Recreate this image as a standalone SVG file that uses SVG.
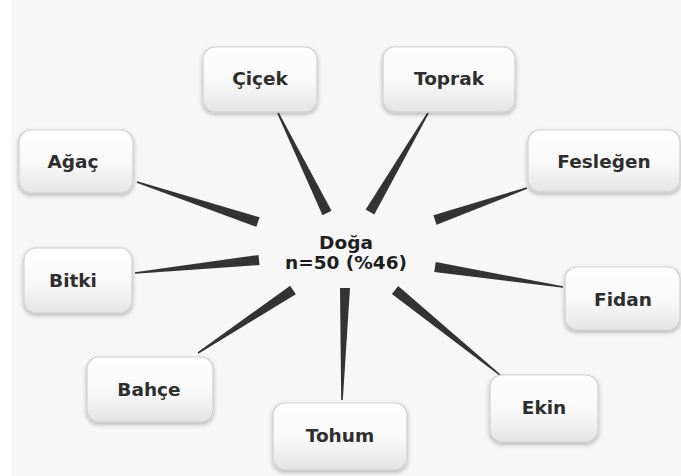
<svg xmlns="http://www.w3.org/2000/svg" width="681" height="476" viewBox="0 0 681 476">
  <defs>
    <linearGradient id="boxGrad" x1="0" y1="0" x2="0" y2="1">
      <stop offset="0" stop-color="#ffffff"/>
      <stop offset="0.55" stop-color="#f8f8f8"/>
      <stop offset="1" stop-color="#e4e4e4"/>
    </linearGradient>
    <filter id="shadow" x="-20%" y="-20%" width="140%" height="150%">
      <feDropShadow dx="0" dy="2" stdDeviation="2" flood-color="#000" flood-opacity="0.28"/>
    </filter>
  </defs>
  <style>
    .box { fill: url(#boxGrad); stroke: #cfcfcf; stroke-width: 1.2; filter: url(#shadow); }
    .lbl { font-family: "DejaVu Sans", "Liberation Sans", sans-serif; font-weight: bold; font-size: 18.5px; fill: #2e2e2e; text-anchor: middle; }
    .center { font-family: "DejaVu Sans", "Liberation Sans", sans-serif; font-weight: bold; font-size: 18.5px; fill: #1e1e1e; text-anchor: middle; }
    .wedge { fill: #333333; }
  </style>
  <rect x="0" y="0" width="681" height="476" fill="#ffffff"/>
  <rect x="11" y="0" width="670" height="476" fill="#f7f7f7"/>

  <g id="connectors">
    <polygon class="wedge" points="277.3,113.4 278.7,112.6 331.5,210.8 322.5,215.2"/>
    <polygon class="wedge" points="427.3,112.6 428.7,113.4 374.3,214.5 365.7,209.5"/>
    <polygon class="wedge" points="136.7,182.8 137.3,181.2 259.6,217.3 256.4,226.8"/>
    <polygon class="wedge" points="134.9,272.2 135.1,273.8 259.5,265 258.5,255"/>
    <polygon class="wedge" points="526.7,187.2 527.3,188.8 436.6,224.7 433.4,215.3"/>
    <polygon class="wedge" points="563.1,286.2 562.9,287.8 434.2,271.9 435.8,262.1"/>
    <polygon class="wedge" points="500.5,374.4 499.5,375.6 391.9,293.9 398.2,286.1"/>
    <polygon class="wedge" points="197.6,352.3 198.4,353.7 295.8,294.2 290.2,285.8"/>
    <polygon class="wedge" points="341.2,400 342.8,400 350,288 340,288"/>
  </g>

  <g id="center">
    <text class="center" x="346" y="249">Doğa</text>
    <text class="center" x="346" y="269">n=50 (%46)</text>
  </g>

  <g id="cicek">
    <rect class="box" x="203" y="47" width="114" height="65" rx="12"/>
    <text class="lbl" x="260" y="85">Çiçek</text>
  </g>
  <g id="toprak">
    <rect class="box" x="383" y="47" width="132" height="65" rx="12"/>
    <text class="lbl" x="449" y="85">Toprak</text>
  </g>
  <g id="agac">
    <rect class="box" x="19" y="130" width="114" height="63" rx="12"/>
    <text class="lbl" x="73" y="168">Ağaç</text>
  </g>
  <g id="feslegen">
    <rect class="box" x="528" y="130" width="152" height="62" rx="12"/>
    <text class="lbl" x="604" y="168">Fesleğen</text>
  </g>
  <g id="bitki">
    <rect class="box" x="24" y="248" width="108" height="65" rx="12"/>
    <text class="lbl" x="73" y="287">Bitki</text>
  </g>
  <g id="fidan">
    <rect class="box" x="565" y="267" width="115" height="63" rx="12"/>
    <text class="lbl" x="623" y="306">Fidan</text>
  </g>
  <g id="bahce">
    <rect class="box" x="87" y="357" width="126" height="65" rx="12"/>
    <text class="lbl" x="149" y="396">Bahçe</text>
  </g>
  <g id="tohum">
    <rect class="box" x="273" y="403" width="134" height="67" rx="12"/>
    <text class="lbl" x="340" y="442">Tohum</text>
  </g>
  <g id="ekin">
    <rect class="box" x="490" y="375" width="108" height="67" rx="12"/>
    <text class="lbl" x="544" y="414">Ekin</text>
  </g>
</svg>
